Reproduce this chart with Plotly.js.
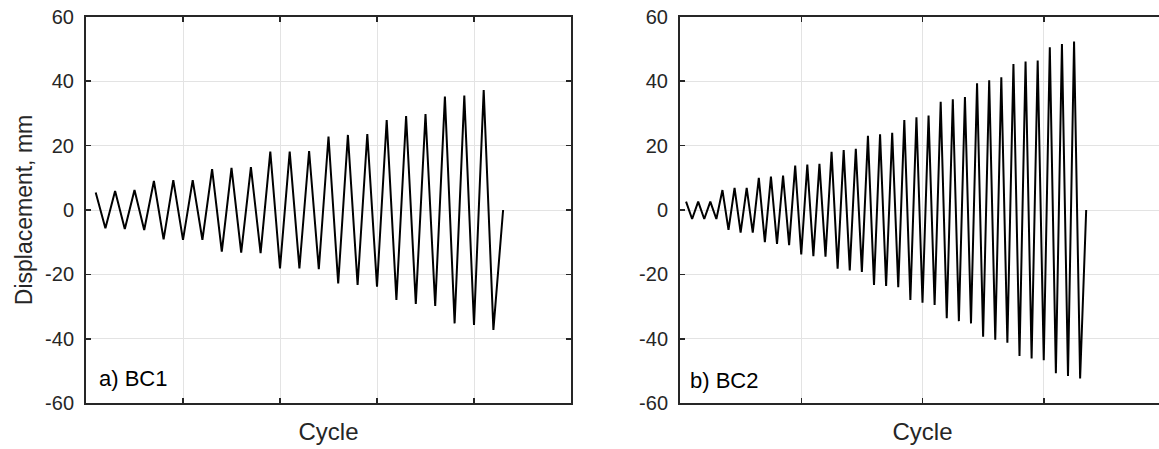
<!DOCTYPE html>
<html>
<head>
<meta charset="utf-8">
<script src="https://cdn.plot.ly/plotly-3.0.1.min.js"></script>
<style>
html,body{margin:0;padding:0;overflow:hidden;background:#fff;}
#chart{width:1165px;height:449px;}
</style>
</head>
<body>
<div id="chart"></div>
<script>
// Displacement peaks (mm) read per loading step
const bc1Disp = [5.4,-5.7,5.9,-5.9,6.2,-6.2,9.0,-9.1,9.3,-9.3,9.3,-9.3,12.7,-12.9,13.1,-13.2,13.3,-13.4,18.1,-18.1,18.1,-18.1,18.3,-18.4,22.8,-22.8,23.3,-23.3,23.6,-23.8,27.9,-27.9,29.2,-29.2,29.8,-29.8,35.2,-35.2,35.5,-35.7,37.2,-37.2,0];
const bc2Disp = [2.6,-2.8,2.6,-2.8,2.6,-2.8,6.2,-6.2,6.9,-7.0,6.9,-7.0,10.0,-10.0,10.4,-10.5,10.7,-10.9,13.8,-13.8,14.1,-14.3,14.3,-14.5,18.1,-18.2,18.6,-18.8,19.0,-19.2,23.0,-23.3,23.5,-23.6,24.0,-24.0,27.9,-27.9,28.8,-28.8,29.3,-29.5,33.6,-33.6,34.4,-34.5,35.1,-35.2,39.3,-39.3,40.3,-40.3,41.2,-41.2,45.3,-45.3,46.1,-46.1,46.4,-46.6,50.5,-50.7,51.5,-51.5,52.3,-52.3,0];
const bc1Step = bc1Disp.map((_, i) => i + 1);
const bc2Step = bc2Disp.map((_, i) => i + 1);
const yTickVals = [-60, -40, -20, 0, 20, 40, 60];
const yTickText = ['-60', '-40', '-20', '0', '20', '40', '60'];
const panelLabels = ['a) BC1', 'b) BC2'];
const xTitle = 'Cycle';
const yTitle = 'Displacement, mm';

const W = 1165, H = 449;
const axisColor = '#262626';
const gridColor = '#e3e3e3';
const font = 'Liberation Sans, Arial, sans-serif';

const traces = [
  {x: bc1Step, y: bc1Disp, xaxis: 'x', yaxis: 'y', mode: 'lines', line: {color: '#000', width: 2}, showlegend: false, hoverinfo: 'skip'},
  {x: bc2Step, y: bc2Disp, xaxis: 'x2', yaxis: 'y2', mode: 'lines', line: {color: '#000', width: 2}, showlegend: false, hoverinfo: 'skip'}
];

function xax(dom, range, dtick, anchor) {
  return {
    domain: dom, range: range, dtick: dtick, tick0: 0, anchor: anchor,
    showticklabels: false, ticks: 'inside', ticklen: 5, tickwidth: 1.5, tickcolor: axisColor,
    showline: true, linecolor: axisColor, linewidth: 2, mirror: 'allticks',
    showgrid: true, gridcolor: gridColor, gridwidth: 1, zeroline: false,
    automargin: false,
    title: {text: xTitle, font: {family: font, size: 24, color: axisColor}, standoff: 19}
  };
}
function yax(anchor, title) {
  return {
    domain: [(H - 403.3) / H, (H - 16.7) / H], range: [-60, 60],
    tickmode: 'array', tickvals: yTickVals, ticktext: yTickText,
    anchor: anchor,
    ticks: 'inside', ticklen: 5, tickwidth: 1.5, tickcolor: axisColor,
    tickfont: {family: font, size: 20, color: axisColor}, ticklabelstandoff: 6,
    showline: true, linecolor: axisColor, linewidth: 2, mirror: 'allticks',
    showgrid: true, gridcolor: gridColor, gridwidth: 1, zeroline: false,
    automargin: false,
    title: title ? {text: title, font: {family: font, size: 23, color: axisColor}, standoff: 6} : {text: ''}
  };
}

const layout = {
  width: W, height: H,
  margin: {l: 0, r: 0, t: 0, b: 0},
  paper_bgcolor: '#fff', plot_bgcolor: '#fff',
  font: {family: font, color: axisColor},
  xaxis: xax([86 / W, 571 / W], [0, 50], 10, 'y'),
  yaxis: yax('x', yTitle),
  xaxis2: xax([680 / W, 1], [0, 80], 20, 'y2'),
  yaxis2: yax('x2', null),
  annotations: [
    {text: panelLabels[0], xref: 'x domain', yref: 'y domain', x: 0.022, y: 0.065, xanchor: 'left', yanchor: 'middle', showarrow: false, font: {family: font, size: 22, color: '#000'}},
    {text: panelLabels[1], xref: 'x2 domain', yref: 'y2 domain', x: 0.017, y: 0.06, xanchor: 'left', yanchor: 'middle', showarrow: false, font: {family: font, size: 22, color: '#000'}}
  ]
};

Plotly.newPlot('chart', traces, layout, {staticPlot: true, displayModeBar: false});
</script>
</body>
</html>
